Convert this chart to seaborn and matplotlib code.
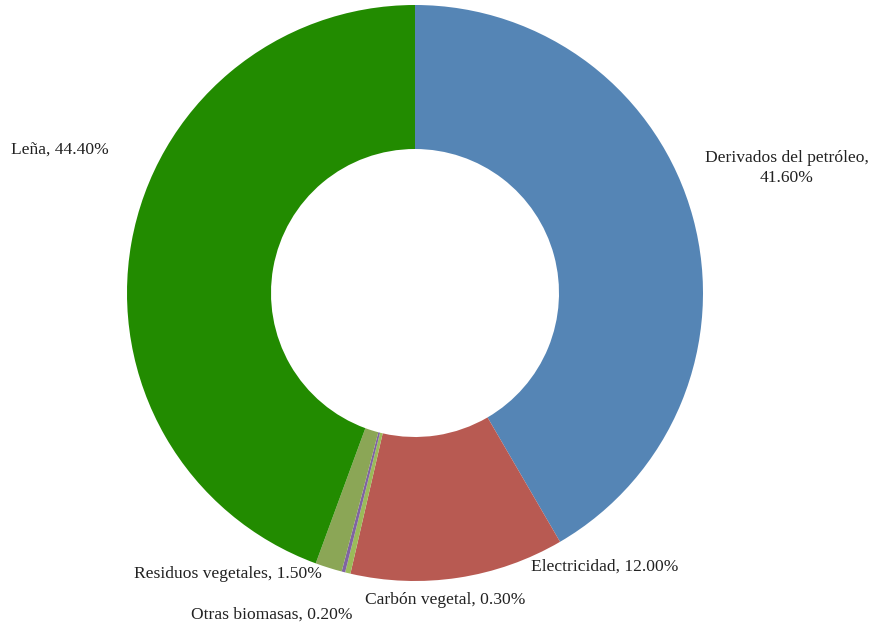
import matplotlib
matplotlib.use("Agg")
import matplotlib.pyplot as plt
import seaborn as sns

sns.set_theme(style="white")
plt.rcParams['font.family'] = ['Liberation Serif', 'DejaVu Serif']

categories = ["Derivados del petróleo", "Electricidad", "Carbón vegetal",
              "Otras biomasas", "Residuos vegetales", "Leña"]
values = [41.6, 12.0, 0.3, 0.2, 1.5, 44.4]
labels = ["Derivados del petróleo,\n41.60%", "Electricidad, 12.00%",
          "Carbón vegetal, 0.30%", "Otras biomasas, 0.20%",
          "Residuos vegetales, 1.50%", "Leña, 44.40%"]
colors = ["#5585B5", "#B85A52", "#9BBB59", "#8064A2", "#8BA656", "#228B00"]

# label centres in pixel coordinates of the figure
label_px = [(787, 168), (605, 567), (445, 600), (272, 615), (228, 574), (60, 150)]

W, H = 871, 627
cx, cy, R = 415, 293, 288
fig = plt.figure(figsize=(W / 100, H / 100), dpi=100)
ax = fig.add_axes([(cx - R) / W, (H - cy - R) / H, 2 * R / W, 2 * R / H])
ax.pie(values, colors=colors, startangle=90, counterclock=False, radius=1,
       wedgeprops=dict(width=0.5, linewidth=0))
ax.set_xlim(-1, 1)
ax.set_ylim(-1, 1)
ax.set_aspect('equal')
ax.axis('off')
for lab, (px, py) in zip(labels, label_px):
    ax.text((px - cx) / R, (cy - py) / R, lab, ha='center', va='center',
            fontsize=12.6, color='#222222', linespacing=1.3, clip_on=False)
fig.savefig("out.png", dpi=100, facecolor='white')
